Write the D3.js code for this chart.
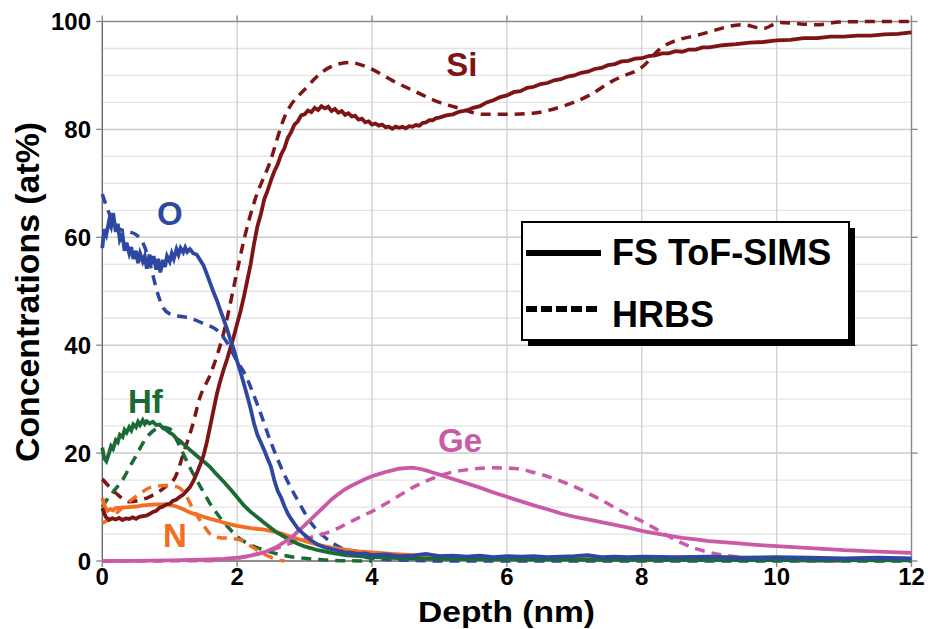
<!DOCTYPE html>
<html>
<head>
<meta charset="utf-8">
<script src="https://cdn.jsdelivr.net/npm/d3@7"></script>
<style>
  html, body { margin: 0; padding: 0; background: #fff; }
  svg { display: block; }
  text { font-family: "Liberation Sans", Arial, Helvetica, sans-serif; font-weight: bold; }
</style>
</head>
<body>
<svg id="chart" width="928" height="629"></svg>
<script>
// Depth profiles: [depth (nm), concentration (at%)]
// FS ToF-SIMS measurements (solid lines)
const siSims = [[0,9.8],[0.05,8.2],[0.1,7.6],[0.15,7.9],[0.2,7.7],[0.25,8.0],[0.3,7.6],[0.35,7.9],[0.4,7.8],[0.45,8.1],[0.5,7.8],[0.55,8.2],[0.6,8.3],[0.65,8.4],[0.7,8.7],[0.75,9.1],[0.8,9.3],[0.85,9.9],[0.9,10.1],[0.95,10.5],[1.0,10.6],[1.05,11.2],[1.1,11.4],[1.15,11.9],[1.2,12.3],[1.25,13.0],[1.3,13.7],[1.35,14.8],[1.4,16.2],[1.45,17.8],[1.5,19.5],[1.55,22.0],[1.6,25.0],[1.65,28.0],[1.7,31.0],[1.75,33.4],[1.8,35.5],[1.85,37.4],[1.9,39.5],[1.95,41.6],[2.0,44.0],[2.05,46.3],[2.1,49.0],[2.15,52.0],[2.2,55.0],[2.25,58.8],[2.3,62.0],[2.35,64.2],[2.4,67.0],[2.45,68.6],[2.5,70.5],[2.55,72.2],[2.6,73.5],[2.65,75.3],[2.7,76.5],[2.75,78.4],[2.8,79.5],[2.85,80.9],[2.9,81.5],[2.95,82.6],[3.0,82.8],[3.05,83.5],[3.1,83.2],[3.15,84.0],[3.2,83.6],[3.25,84.3],[3.3,83.9],[3.35,84.2],[3.4,83.4],[3.45,83.8],[3.5,83.1],[3.55,83.4],[3.6,82.7],[3.65,83.0],[3.7,82.4],[3.75,82.5],[3.8,81.8],[3.85,82.0],[3.9,81.3],[3.95,81.5],[4.0,80.9],[4.05,81.1],[4.1,80.7],[4.15,80.9],[4.2,80.4],[4.25,80.5],[4.3,80.1],[4.35,80.5],[4.4,80.3],[4.45,80.5],[4.5,80.2],[4.55,80.6],[4.6,80.5],[4.65,80.8],[4.7,80.7],[4.75,81.2],[4.8,81.3],[4.85,81.7],[4.9,81.7],[4.95,82.1],[5.0,82.2],[5.1,82.6],[5.2,82.8],[5.3,83.3],[5.4,83.5],[5.5,84.0],[5.6,84.3],[5.7,85.0],[5.8,85.4],[5.9,86.0],[6.0,86.3],[6.1,86.9],[6.2,87.1],[6.3,87.7],[6.4,87.9],[6.5,88.4],[6.6,88.6],[6.7,89.1],[6.8,89.3],[6.9,89.8],[7.0,90.0],[7.1,90.5],[7.2,90.7],[7.3,91.2],[7.4,91.4],[7.5,91.9],[7.6,92.1],[7.7,92.6],[7.8,92.7],[7.9,93.1],[8.0,93.2],[8.1,93.6],[8.2,93.7],[8.3,94.1],[8.4,94.1],[8.5,94.5],[8.6,94.4],[8.7,94.8],[8.8,94.8],[8.9,95.2],[9.0,95.2],[9.2,95.6],[9.4,95.8],[9.6,96.1],[9.8,96.2],[10.0,96.5],[10.2,96.6],[10.4,96.9],[10.6,96.9],[10.8,97.2],[11.0,97.2],[11.2,97.4],[11.4,97.4],[11.6,97.6],[11.8,97.7],[12.0,98.0]];
const oSims = [[0,58],[0.03,61.5],[0.06,60.5],[0.1,63],[0.13,62],[0.16,64.5],[0.2,61],[0.23,62.5],[0.26,59.5],[0.3,60.5],[0.33,57.5],[0.36,59],[0.4,57],[0.43,58.2],[0.46,56],[0.5,57.5],[0.53,55.2],[0.56,57],[0.6,55.5],[0.63,56.5],[0.66,54.2],[0.7,56.8],[0.73,55],[0.76,56.5],[0.8,54],[0.83,56],[0.86,53.5],[0.9,55.8],[0.93,54.5],[0.96,56.5],[1.0,55.5],[1.03,57],[1.06,56],[1.1,57.8],[1.13,56.8],[1.16,58],[1.2,57.2],[1.23,58.1],[1.26,57.3],[1.3,57.8],[1.35,57],[1.4,56.8],[1.45,55.8],[1.5,54.8],[1.55,53.2],[1.6,51.5],[1.65,49.8],[1.7,48.3],[1.75,46.5],[1.8,44.8],[1.85,43],[1.9,41],[1.95,39.2],[2.0,37],[2.05,35],[2.1,32.8],[2.15,30.6],[2.2,28.2],[2.25,25.5],[2.3,23.4],[2.35,22],[2.4,20.6],[2.45,19],[2.5,17.5],[2.55,15],[2.6,13],[2.65,11.8],[2.7,10.2],[2.75,8.8],[2.8,7.8],[2.85,6.9],[2.9,6],[3.0,4.8],[3.1,3.8],[3.2,3.0],[3.3,2.5],[3.4,2.2],[3.5,1.9],[3.6,1.6],[3.7,1.5],[3.8,1.3],[3.9,1.4],[4.0,1.1],[4.2,1.2],[4.4,0.9],[4.6,1.0],[4.8,1.3],[5.0,0.9],[5.2,1.0],[5.4,0.8],[5.6,1.0],[5.8,0.7],[6.0,0.9],[6.2,0.8],[6.4,0.9],[6.6,0.7],[6.8,0.8],[7.0,0.9],[7.2,1.1],[7.4,0.7],[7.6,0.8],[7.8,0.7],[8.0,0.8],[8.5,0.7],[9.0,0.8],[9.5,0.6],[10.0,0.7],[10.5,0.6],[11.0,0.5],[11.5,0.6],[12.0,0.5]];
const hfSims = [[0,21],[0.03,19],[0.06,18.5],[0.1,20],[0.13,21.3],[0.16,20.8],[0.2,22.4],[0.23,22],[0.26,23.4],[0.3,23],[0.33,24.3],[0.36,23.8],[0.4,24.8],[0.43,24.2],[0.46,25.3],[0.5,24.8],[0.53,25.8],[0.56,25.2],[0.6,26.1],[0.63,25.4],[0.66,25.9],[0.7,25.5],[0.75,25.8],[0.8,25.2],[0.85,25.3],[0.9,24.6],[0.95,24.3],[1.0,23.8],[1.05,23.4],[1.1,22.7],[1.15,22.3],[1.2,21.7],[1.3,20.6],[1.4,19.5],[1.5,18.5],[1.6,17.4],[1.7,16],[1.8,14.7],[1.9,13.3],[2.0,11.8],[2.1,10.3],[2.2,9.1],[2.3,8.1],[2.4,7.1],[2.5,6.1],[2.6,5.2],[2.7,4.5],[2.8,3.8],[2.9,3.2],[3.0,2.7],[3.2,2.0],[3.4,1.5],[3.6,1.1],[3.8,0.9],[4.0,0.7],[4.5,0.5],[5,0.4],[6,0.3],[8,0.2],[10,0.15],[12,0.1]];
const nSims = [[0,11.7],[0.04,10],[0.08,9.3],[0.12,9.6],[0.16,9.4],[0.2,9.8],[0.3,9.9],[0.4,10.0],[0.5,10.1],[0.6,10.3],[0.7,10.4],[0.8,10.5],[0.9,10.5],[1.0,10.4],[1.1,10.1],[1.2,9.6],[1.3,9.0],[1.4,8.6],[1.5,8.2],[1.6,7.8],[1.7,7.5],[1.8,7.1],[1.9,6.8],[2.0,6.5],[2.2,6.1],[2.4,5.8],[2.6,5.3],[2.8,4.5],[3.0,3.7],[3.2,3.0],[3.4,2.5],[3.6,2.1],[3.8,1.8],[4.0,1.6],[4.3,1.3],[4.6,1.1],[5,0.9],[5.5,0.7],[6,0.5],[7,0.4],[8,0.3],[9,0.25],[10,0.2],[12,0.15]];
const geSims = [[0,0],[0.5,0.02],[1.0,0.1],[1.5,0.25],[1.8,0.4],[2.0,0.6],[2.2,1.0],[2.4,1.6],[2.6,2.7],[2.8,4.3],[2.9,5.5],[3.0,6.6],[3.1,7.8],[3.2,9.0],[3.3,10.2],[3.4,11.4],[3.5,12.4],[3.6,13.3],[3.7,14.0],[3.8,14.6],[3.9,15.2],[4.0,15.7],[4.1,16.1],[4.2,16.5],[4.3,16.8],[4.4,17.1],[4.5,17.2],[4.6,17.3],[4.7,17.1],[4.8,16.8],[4.9,16.4],[5.0,16.0],[5.2,15.2],[5.4,14.4],[5.6,13.6],[5.8,12.7],[6.0,11.9],[6.2,11.1],[6.4,10.3],[6.6,9.6],[6.8,8.8],[7.0,8.2],[7.2,7.7],[7.4,7.2],[7.6,6.7],[7.8,6.2],[8.0,5.6],[8.2,5.1],[8.4,4.7],[8.6,4.3],[8.8,4.0],[9.0,3.7],[9.2,3.5],[9.4,3.3],[9.6,3.1],[9.8,2.9],[10.0,2.75],[10.5,2.4],[11.0,2.0],[11.5,1.75],[12,1.5]];

// HRBS measurements (dashed lines)
const siHrbs = [[0,15.2],[0.2,12.6],[0.4,11.0],[0.7,11.9],[0.93,13.7],[1.08,15.5],[1.22,20.6],[1.33,24.8],[1.45,30.4],[1.6,34.5],[1.82,43.3],[1.97,52.0],[2.11,60.0],[2.26,66.8],[2.48,73.7],[2.7,82.2],[3.03,87.8],[3.37,91.5],[3.67,92.4],[3.97,91.3],[4.31,89.0],[4.66,86.9],[5.0,85.0],[5.3,83.9],[5.64,82.8],[6.0,82.8],[6.38,83.0],[6.78,84.1],[7.22,86.3],[7.57,89.0],[7.67,89.6],[8.0,91.5],[8.3,95.2],[8.9,97.7],[9.5,99.4],[9.8,98.7],[10.04,99.8],[10.6,99.4],[10.93,99.9],[11.5,100],[12,100]];
const oHrbs = [[0,68],[0.1,64.5],[0.2,62],[0.3,61.3],[0.4,61],[0.5,60.5],[0.6,59],[0.65,57.5],[0.7,55.5],[0.75,53],[0.8,50.5],[0.85,48.5],[0.9,47],[1.0,45.8],[1.1,45.5],[1.3,45],[1.5,44],[1.7,42.8],[1.85,40.5],[2.0,37],[2.1,35],[2.3,29],[2.5,22],[2.7,16],[2.9,11.2],[3.1,7],[3.3,4.4],[3.5,2.7],[3.7,1.5],[3.9,0.7],[4.2,0.3],[4.6,0.1],[5,0],[12,0]];
const hfHrbs = [[0,10],[0.1,11.9],[0.2,13.4],[0.3,15],[0.4,17.3],[0.5,19.5],[0.6,21.8],[0.7,23.5],[0.8,24.5],[0.9,24.8],[1.0,24.5],[1.1,22.5],[1.2,19.9],[1.3,17.3],[1.4,15],[1.5,12.8],[1.6,10.6],[1.7,8.8],[1.8,7.2],[1.9,5.8],[2.0,4.5],[2.2,3.0],[2.4,2.0],[2.6,1.3],[2.8,0.8],[3.0,0.5],[3.3,0.2],[3.6,0.05],[4,0]];
const nHrbs = [[0,7],[0.14,8.1],[0.34,10.4],[0.53,12.2],[0.73,13.7],[0.93,14],[1.12,13.7],[1.22,12.6],[1.33,10],[1.48,7],[1.62,4.8],[1.75,4.3],[1.9,4.2],[2.05,3.9],[2.2,2.8],[2.35,1.6],[2.5,0.7],[2.6,0.2],[2.7,0]];
const geHrbs = [[0,0],[1.5,0.05],[2.0,0.5],[2.5,2.0],[2.8,3.3],[3.1,4.4],[3.3,5.1],[3.5,6.1],[3.7,7.4],[3.9,8.6],[4.0,9.2],[4.2,10.6],[4.4,12.1],[4.6,13.6],[4.8,14.8],[5.0,15.8],[5.2,16.5],[5.4,16.9],[5.6,17.2],[5.8,17.3],[6.0,17.2],[6.2,17.0],[6.4,16.4],[6.6,15.7],[6.8,14.8],[7.0,13.8],[7.2,12.6],[7.4,11.3],[7.6,9.9],[7.8,8.6],[8.0,7.4],[8.2,6.0],[8.4,4.6],[8.6,3.3],[8.8,2.3],[9.0,1.6],[9.2,1.1],[9.4,0.8],[9.6,0.55],[9.8,0.35],[10.0,0.2],[10.5,0.05],[11,0]];

// Axis ticks and labels
const xTicks = [0, 2, 4, 6, 8, 10, 12];
const yTicks = [0, 20, 40, 60, 80, 100];
const yGrid = d3.range(5, 100, 5);
const xTitle = "Depth (nm)";
const yTitle = "Concentrations (at%)";
const legendItems = ["FS ToF-SIMS", "HRBS"];

// Element labels: [name, depth, conc at baseline]
const elementLabels = [["Si", 5.1, 89.9], ["O", 0.81, 62.3], ["Hf", 0.38, 27.4], ["N", 0.9, 2.6], ["Ge", 4.98, 20.2]];
const colors = { Si: "#7d1416", O: "#2e48a1", Hf: "#1c6a35", N: "#f26e22", Ge: "#cb5aa6" };

const svg = d3.select("#chart");
const x = d3.scaleLinear().domain([0, 12]).range([102.3, 911.5]);
const y = d3.scaleLinear().domain([0, 100]).range([561, 21.5]);

// Grid
const grid = svg.append("g");
grid.selectAll("line.hg").data(yGrid).join("line")
  .attr("x1", x(0)).attr("x2", x(12))
  .attr("y1", d => y(d)).attr("y2", d => y(d))
  .attr("stroke", d => d % 20 === 0 ? "#cbcbcb" : "#e4e4e4")
  .attr("stroke-width", d => d % 20 === 0 ? 1.5 : 1.3);
grid.selectAll("line.vg").data(xTicks.slice(1, -1)).join("line")
  .attr("x1", d => x(d)).attr("x2", d => x(d))
  .attr("y1", y(0)).attr("y2", y(100))
  .attr("stroke", "#cfcfcf").attr("stroke-width", 1.3);

// Frame with outward ticks on every side
const frame = svg.append("g").attr("stroke", "#8a8a8a").attr("stroke-width", 1.4);
frame.append("line").attr("x1", x(0)).attr("x2", x(12)).attr("y1", y(100)).attr("y2", y(100));
frame.append("line").attr("x1", x(12)).attr("x2", x(12)).attr("y1", y(0)).attr("y2", y(100));
frame.append("line").attr("x1", x(0)).attr("x2", x(0)).attr("y1", y(0)).attr("y2", y(100)).attr("stroke", "#6a6a6a");
frame.append("line").attr("x1", x(0)).attr("x2", x(12)).attr("y1", y(0)).attr("y2", y(0)).attr("stroke", "#6a6a6a");
yTicks.forEach(v => {
  frame.append("line").attr("x1", x(0) - 6).attr("x2", x(0)).attr("y1", y(v)).attr("y2", y(v));
  frame.append("line").attr("x1", x(12)).attr("x2", x(12) + 6).attr("y1", y(v)).attr("y2", y(v));
});
xTicks.forEach(v => {
  frame.append("line").attr("x1", x(v)).attr("x2", x(v)).attr("y1", y(100) - 6).attr("y2", y(100));
  frame.append("line").attr("x1", x(v)).attr("x2", x(v)).attr("y1", y(0)).attr("y2", y(0) + 6);
});

// Tick labels
svg.append("g").selectAll("text").data(yTicks).join("text")
  .attr("x", 91).attr("y", d => y(d) + 8.5)
  .attr("text-anchor", "end").attr("font-size", 24).attr("fill", "#000")
  .text(d => d);
svg.append("g").selectAll("text").data(xTicks).join("text")
  .attr("x", d => x(d)).attr("y", 585)
  .attr("text-anchor", "middle").attr("font-size", 24).attr("fill", "#000")
  .text(d => d);

// Axis titles
svg.append("text").attr("x", 506.5).attr("y", 621.5)
  .attr("text-anchor", "middle").attr("font-size", 30)
  .attr("textLength", 177).attr("lengthAdjust", "spacingAndGlyphs")
  .text(xTitle);
svg.append("text").attr("transform", "translate(38.5,292) rotate(-90)")
  .attr("text-anchor", "middle").attr("font-size", 34)
  .attr("textLength", 340).attr("lengthAdjust", "spacingAndGlyphs")
  .text(yTitle);

// Curves
const solid = d3.line().x(d => x(d[0])).y(d => y(d[1])).curve(d3.curveLinear);
const dashed = d3.line().x(d => x(d[0])).y(d => y(d[1])).curve(d3.curveMonotoneX);
const plot = svg.append("g");
const hrbsSeries = [["Si", siHrbs], ["O", oHrbs], ["Hf", hfHrbs], ["N", nHrbs], ["Ge", geHrbs]];
const simsSeries = [["N", nSims], ["Hf", hfSims], ["Si", siSims], ["Ge", geSims], ["O", oSims]];
hrbsSeries.forEach(([el, data]) => {
  plot.append("path").datum(data).attr("d", dashed)
    .attr("fill", "none").attr("stroke", colors[el]).attr("stroke-width", 3.5)
    .attr("stroke-dasharray", "10,7");
});
simsSeries.forEach(([el, data]) => {
  plot.append("path").datum(data).attr("d", solid)
    .attr("fill", "none").attr("stroke", colors[el]).attr("stroke-width", 3.8)
    .attr("stroke-linejoin", "miter");
});

// Element labels
svg.append("g").selectAll("text").data(elementLabels).join("text")
  .attr("x", d => x(d[1])).attr("y", d => y(d[2]))
  .attr("font-size", 33).attr("fill", d => colors[d[0]])
  .text(d => d[0]);

// Legend
const lg = svg.append("g");
lg.append("rect").attr("x", 528).attr("y", 228).attr("width", 327).attr("height", 118).attr("fill", "#000");
lg.append("rect").attr("x", 522).attr("y", 222).attr("width", 327).attr("height", 118)
  .attr("fill", "#fff").attr("stroke", "#000").attr("stroke-width", 2);
lg.append("line").attr("x1", 526).attr("x2", 601).attr("y1", 253).attr("y2", 253)
  .attr("stroke", "#000").attr("stroke-width", 6);
lg.append("line").attr("x1", 526).attr("x2", 600).attr("y1", 309).attr("y2", 309)
  .attr("stroke", "#000").attr("stroke-width", 6).attr("stroke-dasharray", "11,4");
lg.selectAll("text").data(legendItems).join("text")
  .attr("x", 612).attr("y", (d, i) => i === 0 ? 265 : 327)
  .attr("font-size", 36).attr("fill", "#000")
  .text(d => d);
</script>
</body>
</html>
